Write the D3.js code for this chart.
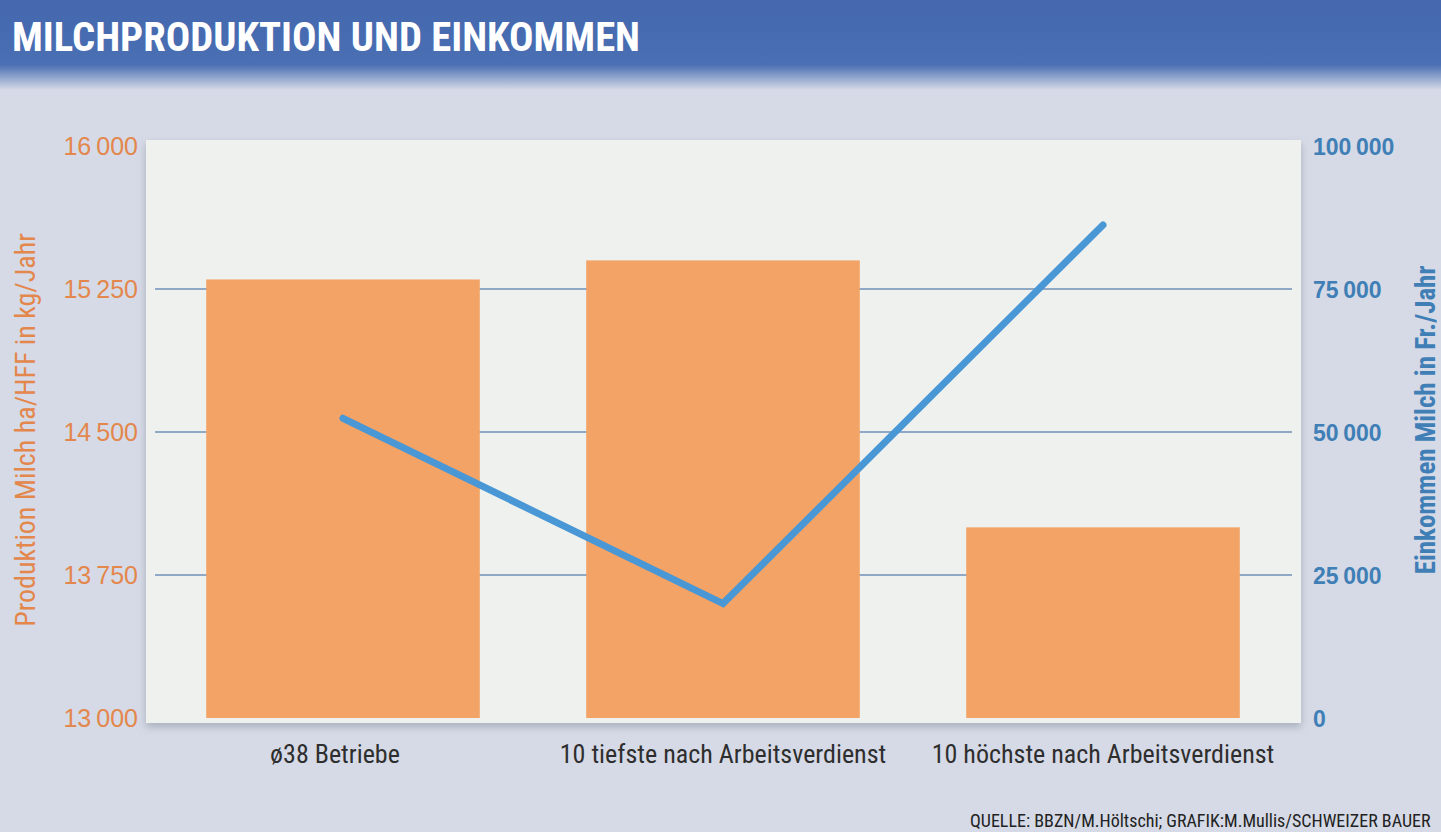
<!DOCTYPE html>
<html>
<head>
<meta charset="utf-8">
<script src="https://cdn.jsdelivr.net/npm/d3@7"></script>
<style>
    body { margin: 0; background: #d6dae6; overflow: hidden; }
    svg { display: block; }
    .narrow { font-family: "Liberation Sans Narrow", "Roboto Condensed", "Liberation Sans", sans-serif; }
</style>
</head>
<body>
<div id="chart"></div>
<script>
// categories and values
const categories = ["ø38 Betriebe", "10 tiefste nach Arbeitsverdienst", "10 höchste nach Arbeitsverdienst"];
const production = [15300, 15400, 14000];   // kg/Jahr, left axis (bars)
const income = [52400, 20000, 86200];       // Fr./Jahr, right axis (line)
const leftTicks = [13000, 13750, 14500, 15250, 16000];
const rightTicks = [0, 25000, 50000, 75000, 100000];

class MilkChart {
    constructor(parentElement) {
        this.parentElement = parentElement;
        this.initVis();
    }

    initVis() {
        let vis = this;
        vis.W = 1441;
        vis.H = 832;

        vis.svg = d3.select("#" + vis.parentElement).append("svg")
            .attr("width", vis.W)
            .attr("height", vis.H);

        let defs = vis.svg.append("defs");
        let grad = defs.append("linearGradient")
            .attr("id", "headGrad")
            .attr("x1", 0).attr("y1", 0).attr("x2", 0).attr("y2", 1);
        grad.append("stop").attr("offset", "0%").attr("stop-color", "#4467ad");
        grad.append("stop").attr("offset", "72%").attr("stop-color", "#4a6fb3");
        grad.append("stop").attr("offset", "100%").attr("stop-color", "#d6dae6");

        let shadow = defs.append("filter").attr("id", "shadow")
            .attr("x", "-5%").attr("y", "-5%").attr("width", "110%").attr("height", "115%");
        shadow.append("feDropShadow")
            .attr("dx", 0).attr("dy", 4).attr("stdDeviation", 4)
            .attr("flood-color", "#8a90a0").attr("flood-opacity", 0.6);

        // panel edges
        vis.panel = { left: 146, right: 1301, top: 140, bottom: 723 };

        vis.y = d3.scaleLinear().domain([13000, 16000]).range([718, 146]);
        vis.y2 = d3.scaleLinear().domain([0, 100000]).range([718, 146]);
        vis.x = d3.scaleBand()
            .domain(categories)
            .range([153, 1293])
            .paddingInner(0.28)
            .paddingOuter(0.14);

        vis.fmt = d => d3.format(",")(d).replace(/,/g, "\u2009");

        vis.updateVis();
    }

    updateVis() {
        let vis = this;

        // header band
        vis.svg.append("rect")
            .attr("x", 0).attr("y", 0)
            .attr("width", vis.W).attr("height", 90)
            .attr("fill", "url(#headGrad)");

        vis.svg.append("text")
            .attr("class", "narrow")
            .attr("x", 12).attr("y", 51)
            .attr("fill", "#ffffff")
            .style("font-size", "40px")
            .style("font-weight", "bold")
            .attr("textLength", 628)
            .attr("lengthAdjust", "spacingAndGlyphs")
            .text("MILCHPRODUKTION UND EINKOMMEN");

        // white plot panel
        vis.svg.append("rect")
            .attr("x", vis.panel.left).attr("y", vis.panel.top)
            .attr("width", vis.panel.right - vis.panel.left)
            .attr("height", vis.panel.bottom - vis.panel.top)
            .attr("fill", "#eff1ef")
            .attr("filter", "url(#shadow)");

        // gridlines
        vis.svg.append("g")
            .selectAll("line")
            .data(leftTicks.filter(d => d > 13000 && d < 16000))
            .enter()
            .append("line")
            .attr("x1", 155).attr("x2", 1292)
            .attr("y1", d => vis.y(d)).attr("y2", d => vis.y(d))
            .attr("stroke", "#6f8fb8")
            .attr("stroke-width", 1.5);

        // bars
        vis.svg.append("g")
            .selectAll("rect")
            .data(production)
            .enter()
            .append("rect")
            .attr("x", (d, i) => vis.x(categories[i]))
            .attr("width", vis.x.bandwidth())
            .attr("y", d => vis.y(d))
            .attr("height", d => vis.y(13000) - vis.y(d))
            .attr("fill", "#f2a365");

        // income line
        let line = d3.line()
            .x((d, i) => vis.x(categories[i]) + vis.x.bandwidth() / 2)
            .y(d => vis.y2(d));

        vis.svg.append("path")
            .datum(income)
            .attr("fill", "none")
            .attr("stroke", "#4a97d6")
            .attr("stroke-width", 7)
            .attr("stroke-linecap", "round")
            .attr("stroke-linejoin", "miter")
            .attr("d", line);

        // left axis
        let yAxis = d3.axisLeft(vis.y)
            .tickValues(leftTicks)
            .tickSize(0)
            .tickPadding(0)
            .tickFormat(vis.fmt);

        vis.svg.append("g")
            .attr("transform", "translate(138,0)")
            .call(yAxis)
            .call(g => g.select(".domain").remove())
            .selectAll("text")
            .attr("fill", "#e3874c")
            .attr("dy", "0.35em")
            .style("font-size", "25px")
            .style("font-family", "\"Liberation Sans Narrow\", sans-serif");

        // right axis
        let y2Axis = d3.axisRight(vis.y2)
            .tickValues(rightTicks)
            .tickSize(0)
            .tickPadding(0)
            .tickFormat(vis.fmt);

        vis.svg.append("g")
            .attr("transform", "translate(1313,0)")
            .call(y2Axis)
            .call(g => g.select(".domain").remove())
            .selectAll("text")
            .attr("fill", "#3f7fb6")
            .attr("dy", "0.35em")
            .style("font-size", "23px")
            .style("font-weight", "bold")
            .style("font-family", "\"Liberation Sans Narrow\", sans-serif");

        // axis titles
        vis.svg.append("text")
            .attr("class", "narrow")
            .attr("transform", "translate(35,430) rotate(-90)")
            .attr("text-anchor", "middle")
            .attr("fill", "#e3874c")
            .style("font-size", "28px")
            .text("Produktion Milch ha/HFF in kg/Jahr");

        vis.svg.append("text")
            .attr("class", "narrow")
            .attr("transform", "translate(1435,420) rotate(-90)")
            .attr("text-anchor", "middle")
            .attr("fill", "#3f7fb6")
            .style("font-size", "27px")
            .style("font-weight", "bold")
            .text("Einkommen Milch in Fr./Jahr");

        // category labels
        vis.svg.append("g")
            .selectAll("text")
            .data(categories)
            .enter()
            .append("text")
            .attr("class", "narrow")
            .attr("x", d => vis.x(d) + vis.x.bandwidth() / 2 - (d === categories[0] ? 8 : 0))
            .attr("y", 763)
            .attr("text-anchor", "middle")
            .attr("fill", "#2e2e2e")
            .style("font-size", "26px")
            .text(d => d);

        // source
        vis.svg.append("text")
            .attr("class", "narrow")
            .attr("x", 970).attr("y", 827)
            .attr("fill", "#222")
            .style("font-size", "18px")
            .text("QUELLE: BBZN/M.Höltschi; GRAFIK:M.Mullis/SCHWEIZER BAUER");
    }
}

new MilkChart("chart");
</script>
</body>
</html>
